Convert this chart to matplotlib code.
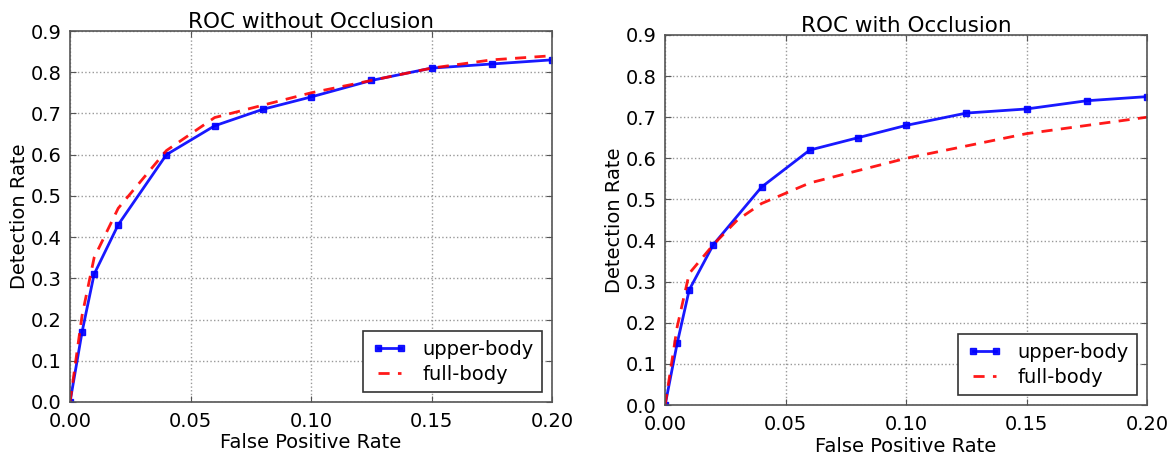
import matplotlib
matplotlib.use('Agg')
import matplotlib.pyplot as plt

fpr_upper = [0, 0.005, 0.01, 0.02, 0.04, 0.06, 0.08, 0.10, 0.125, 0.15, 0.175, 0.20]
tpr_upper_noocc = [0, 0.17, 0.31, 0.43, 0.60, 0.67, 0.71, 0.74, 0.78, 0.81, 0.82, 0.83]
tpr_upper_occ = [0, 0.15, 0.28, 0.39, 0.53, 0.62, 0.65, 0.68, 0.71, 0.72, 0.74, 0.75]

fpr_full = [0, 0.005, 0.01, 0.02, 0.03, 0.04, 0.06, 0.08, 0.10, 0.125, 0.15, 0.175, 0.20]
tpr_full_noocc = [0, 0.21, 0.35, 0.47, 0.54, 0.61, 0.69, 0.72, 0.75, 0.78, 0.81, 0.83, 0.84]
tpr_full_occ = [0, 0.19, 0.32, 0.39, 0.45, 0.49, 0.54, 0.57, 0.60, 0.63, 0.66, 0.68, 0.70]

xticks = [0.0, 0.05, 0.10, 0.15, 0.20]
xticklabels = ['0.00', '0.05', '0.10', '0.15', '0.20']
yticks = [0.0, 0.1, 0.2, 0.3, 0.4, 0.5, 0.6, 0.7, 0.8, 0.9]

plt.rcParams['font.family'] = 'DejaVu Sans'
fig = plt.figure(figsize=(11.71, 4.58), dpi=100)
ax1 = fig.add_axes([0.0598, 0.1223, 0.4116, 0.810])
ax2 = fig.add_axes([0.568, 0.1157, 0.4116, 0.808])


def draw(ax, title, tpr_u, tpr_f):
    ax.plot(fpr_upper, tpr_u, color='#0000ff', lw=2, marker='s', ms=5,
            label='upper-body', alpha=0.9)
    ax.plot(fpr_full, tpr_f, color='#ff0000', lw=2, ls='--', dashes=(4, 3),
            label='full-body', alpha=0.9)
    ax.set_xlim(0, 0.2)
    ax.set_ylim(0, 0.9)
    ax.set_xticks(xticks)
    ax.set_xticklabels(xticklabels)
    ax.set_yticks(yticks)
    ax.grid(True, ls=':', color='#999999', lw=1)
    ax.tick_params(direction='in', top=True, right=True, labelsize=14, length=4,
                   color='#555555')
    ax.tick_params(axis='x', pad=7)
    ax.tick_params(axis='y', pad=6)
    for sp in ax.spines.values():
        sp.set_color('#555555')
        sp.set_linewidth(1.2)
    ax.set_title(title, fontsize=15.5, pad=2)
    ax.set_xlabel('False Positive Rate', fontsize=14, labelpad=2)
    ax.set_ylabel('Detection Rate', fontsize=14, labelpad=1)
    leg = ax.legend(loc='lower right', fontsize=14, fancybox=False,
                    framealpha=1, edgecolor='#333333', borderpad=0.45,
                    handlelength=1.8, handletextpad=0.8, numpoints=2,
                    borderaxespad=0.5, labelspacing=0.3)
    leg.get_frame().set_linewidth(1.2)


draw(ax1, 'ROC without Occlusion', tpr_upper_noocc, tpr_full_noocc)
draw(ax2, 'ROC with Occlusion', tpr_upper_occ, tpr_full_occ)

fig.savefig('out.png', dpi=100)
